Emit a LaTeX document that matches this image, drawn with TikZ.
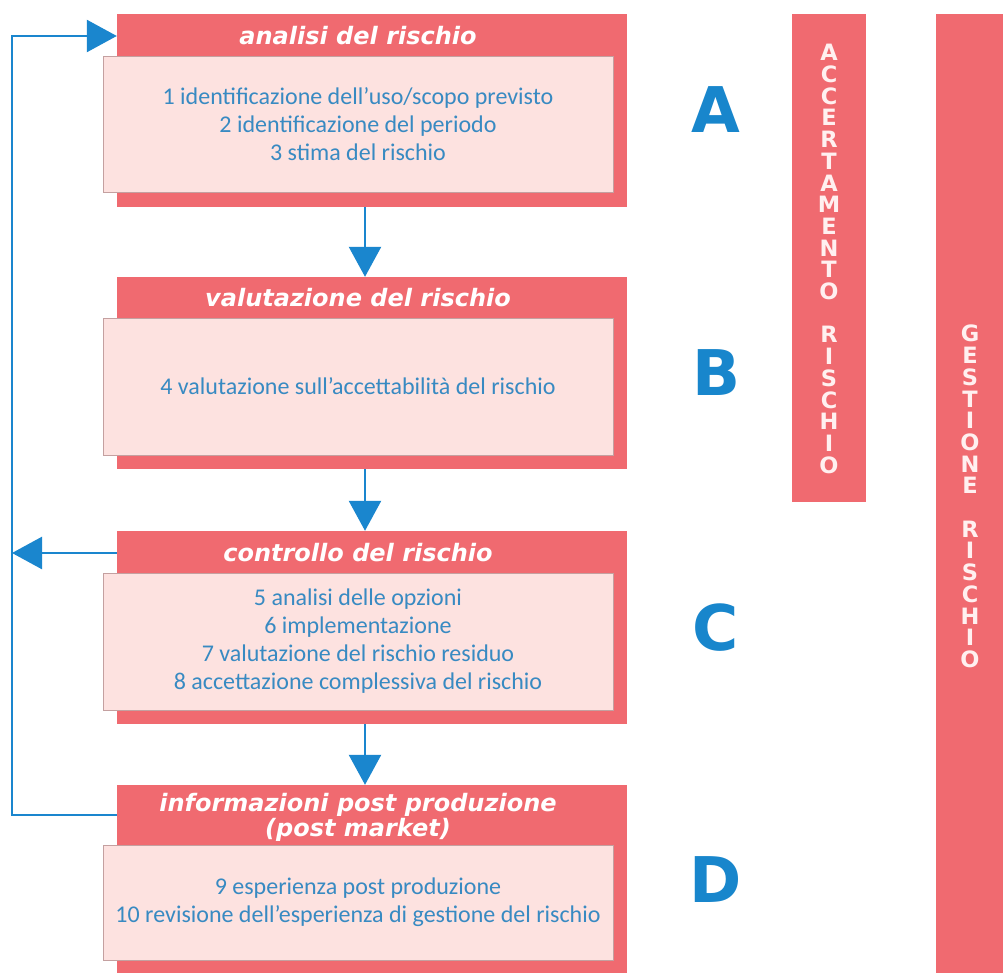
\documentclass[tikz,border=0pt]{standalone}
\usepackage{fontspec}
\setmainfont{Carlito}
\newfontfamily\vfont{DejaVu Sans}
\usetikzlibrary{arrows.meta}
\definecolor{boxred}{RGB}{240,106,112}
\definecolor{boxpink}{RGB}{253,226,224}
\definecolor{pinkedge}{RGB}{196,160,160}
\definecolor{arrowblue}{RGB}{26,134,206}
\definecolor{textblue}{RGB}{56,138,194}
\definecolor{letterblue}{RGB}{24,134,204}
\definecolor{barletter}{RGB}{255,240,240}
\tikzset{
  redbox/.style={fill=boxred, draw=none, minimum width=510pt, inner sep=0pt},
  pinkbox/.style={fill=boxpink, draw=pinkedge, line width=0.8pt, minimum width=510pt, inner sep=0pt,
     align=center, text=textblue, font=\fontsize{24}{28}\selectfont},
  titletext/.style={text=white, inner sep=0pt, align=center,
     font=\vfont\bfseries\itshape\fontsize{24}{25}\selectfont},
  bigletter/.style={text=letterblue, inner sep=0pt, font=\vfont\bfseries\fontsize{63}{70}\selectfont},
  barbox/.style={fill=boxred, draw=none, inner sep=0pt},
  stack/.style={text=barletter, inner sep=0pt, align=center, font=\vfont\bfseries\fontsize{22.5}{21.7}\selectfont},
  arr/.style={draw=arrowblue, line width=2.5pt, -{Triangle[length=30pt,width=32pt]}},
  plain/.style={draw=arrowblue, line width=2.5pt}
}
\begin{document}
\begin{tikzpicture}[x=1pt,y=-1pt]
\useasboundingbox (0,0) rectangle (1003,973);
\fill[white] (0,0) rectangle (1003,973);
% boxes
\node[redbox, minimum height=193pt] (redA) at (372,110.5) {};
\node[pinkbox, minimum height=136pt] (pinkA) at (358,124) {1 identificazione dell’uso/scopo previsto\\2 identificazione del periodo\\3 stima del rischio};
\node[titletext] (titA) at (358,36) {analisi del rischio};

\node[redbox, minimum height=192pt] (redB) at (372,373) {};
\node[pinkbox, minimum height=137pt] (pinkB) at (358,386.5) {4 valutazione sull’accettabilità del rischio};
\node[titletext] (titB) at (358,298) {valutazione del rischio};

\node[redbox, minimum height=193pt] (redC) at (372,627.5) {};
\node[pinkbox, minimum height=137pt] (pinkC) at (358,641.5) {5 analisi delle opzioni\\6 implementazione\\7 valutazione del rischio residuo\\8 accettazione complessiva del rischio};
\node[titletext] (titC) at (358,553) {controllo del rischio};

\node[redbox, minimum height=200pt] (redD) at (372,885) {};
\node[pinkbox, minimum height=115pt] (pinkD) at (358,902.5) {9 esperienza post produzione\\10 revisione dell’esperienza di gestione del rischio};
\node[titletext] (titD) at (358,817) {informazioni post produzione\\(post market)};

% letters
\node[bigletter] (LA) at (716,110) {A};
\node[bigletter] (LB) at (716,373) {B};
\node[bigletter] (LC) at (716,628) {C};
\node[bigletter] (LD) at (716,880) {D};

% bars
\node[barbox, minimum width=74pt, minimum height=488pt] (barA) at (829,258) {};
\node[stack] (stackA) at (829,259) {A\\C\\C\\E\\R\\T\\A\\M\\E\\N\\T\\O\\\mbox{}\\R\\I\\S\\C\\H\\I\\O};
\node[barbox, minimum width=74pt, minimum height=970pt] (barB) at (973,499) {};
\node[stack] (stackB) at (970,496.5) {G\\E\\S\\T\\I\\O\\N\\E\\\mbox{}\\R\\I\\S\\C\\H\\I\\O};

% connectors
\coordinate (ax) at (365,0);
\coordinate (loopTop) at (12,36);
\coordinate (loopBot) at (12,815);
\coordinate (cy) at (0,553);
\draw[arr] (redA.south -| ax) -- (redB.north -| ax);
\draw[arr] (redB.south -| ax) -- (redC.north -| ax);
\draw[arr] (redC.south -| ax) -- (redD.north -| ax);
\draw[arr] (redD.west |- loopBot) -- (loopBot) -- (loopTop) -- (redA.west |- loopTop);
\draw[arr] (redC.west |- cy) -- (loopBot |- cy);
\end{tikzpicture}
\end{document}
